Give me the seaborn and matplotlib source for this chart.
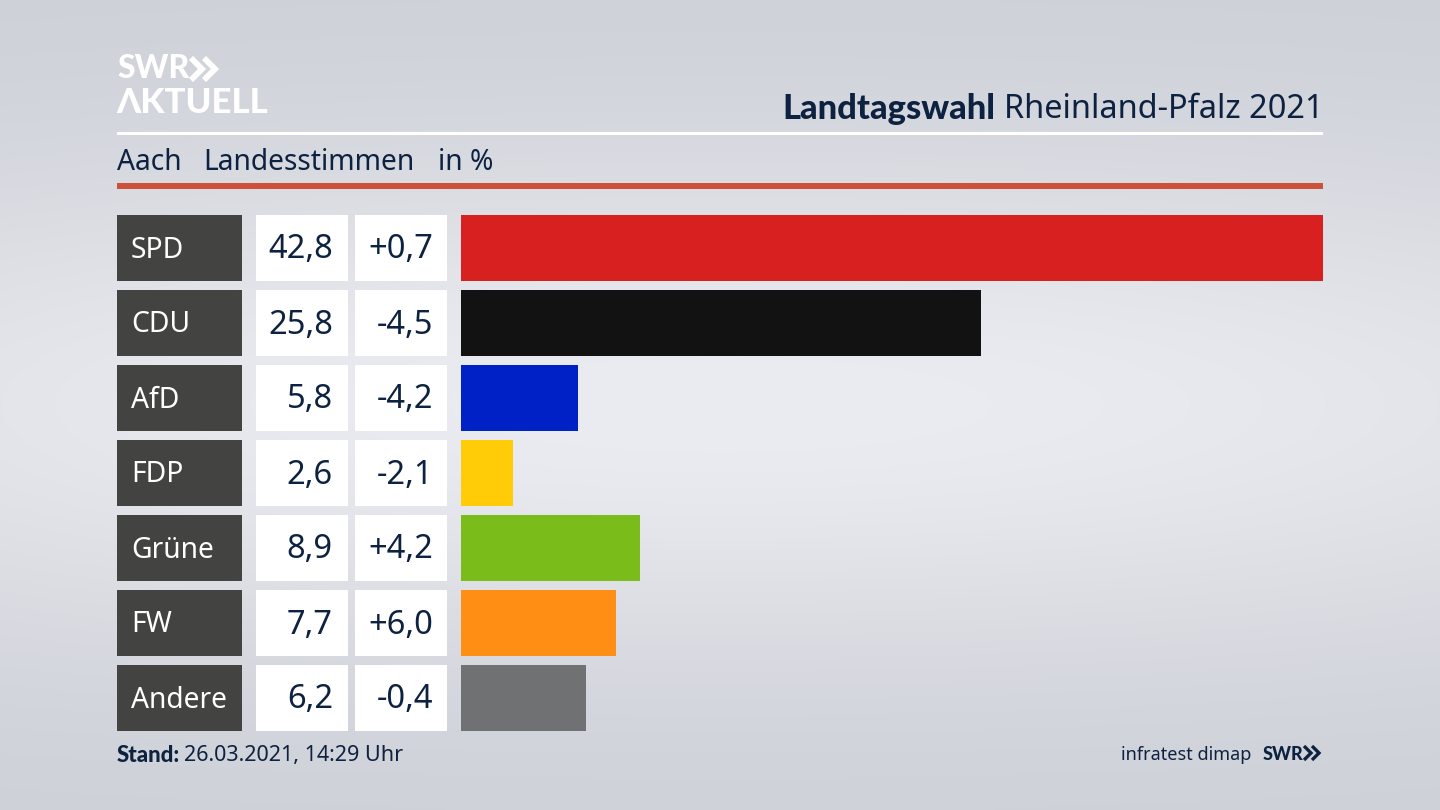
# plot.py
# Landtagswahl Rheinland-Pfalz 2021, Aach, Landesstimmen

import numpy as np
import pandas as pd
import matplotlib
matplotlib.use('Agg')
import matplotlib.pyplot as plt
from matplotlib.patches import Rectangle
import seaborn as sns

parties = ['SPD', 'CDU', 'AfD', 'FDP', 'Grüne', 'FW', 'Andere']
shares = [42.8, 25.8, 5.8, 2.6, 8.9, 7.7, 6.2]
share_labels = ['42,8', '25,8', '5,8', '2,6', '8,9', '7,7', '6,2']
diff_labels = ['+0,7', '-4,5', '-4,2', '-2,1', '+4,2', '+6,0', '-0,4']
party_colors = ['#d7201f', '#121212', '#0021c6', '#ffcc07', '#7abc19', '#ff8e14', '#707173']

NAVY = '#0d2240'
W, H = 1440, 810
ROW_PITCH = 75
ROW_TOP = 215
ROW_H = 66
BOLD = ['Lato', 'DejaVu Sans']

sns.set_theme(style='white')
plt.rcParams['font.family'] = ['Noto Sans', 'DejaVu Sans']

fig = plt.figure(figsize=(W / 100, H / 100), dpi=100)

# ── Background + decoration, in pixel coords ───────────
bg = fig.add_axes([0, 0, 1, 1])
bg.set_xlim(0, W)
bg.set_ylim(H, 0)
bg.axis('off')

xx, yy = np.meshgrid(np.linspace(-1, 1, 320), np.linspace(-1, 1, 180))
glow = np.exp(-(yy / 0.62) ** 2) * (1 - 0.25 * xx ** 2)
top_c = np.array([0xcd, 0xd0, 0xd7]) / 255
mid_c = np.array([0xeb, 0xec, 0xf1]) / 255
grad = top_c[None, None, :] + (mid_c - top_c)[None, None, :] * glow[:, :, None]
bg.imshow(grad, extent=[0, W, H, 0], aspect='auto', interpolation='bilinear', zorder=0)

# Logo
bg.text(117, 69, 'SWR', color='white', fontsize=23, family=BOLD, fontweight='black', va='center', ha='left')
bg.text(116, 103, 'ΛKTUELL', color='white', fontsize=25, family=BOLD, fontweight='black', va='center', ha='left')
for x0 in (191, 204):
    bg.plot([x0, x0 + 11, x0], [58, 69, 80], color='white', lw=4.2,
            solid_joinstyle='miter', solid_capstyle='butt')

# Header
t = bg.text(1323, 110, 'Rheinland-Pfalz 2021', color=NAVY, fontsize=23.4, va='center', ha='right')
fig.canvas.draw()
ext = t.get_window_extent()
bg.text(ext.x0 - 8, 109, 'Landtagswahl', color=NAVY, fontsize=24.8, family=BOLD, fontweight='black', va='center', ha='right')
bg.add_patch(Rectangle((117, 132), 1206, 3, color='white', lw=0))
bg.text(117, 162, 'Aach', color=NAVY, fontsize=20.3, va='center', ha='left')
bg.text(203, 162, 'Landesstimmen', color=NAVY, fontsize=20.3, va='center', ha='left')
bg.text(438, 162, 'in %', color=NAVY, fontsize=20.3, va='center', ha='left')
bg.add_patch(Rectangle((117, 183), 1206, 6, color='#cd5038', lw=0))

# Table cells next to the bars
for i, party in enumerate(parties):
    top = ROW_TOP + i * ROW_PITCH
    mid = top + ROW_H / 2 + 2
    bg.add_patch(Rectangle((117, top), 124.5, ROW_H, color='#434341', lw=0))
    bg.add_patch(Rectangle((256, top), 92, ROW_H, color='white', lw=0))
    bg.add_patch(Rectangle((355, top), 92, ROW_H, color='white', lw=0))
    bg.text(131, mid, party, color='white', fontsize=20.3, va='center', ha='left')
    bg.text(333, mid, share_labels[i], color=NAVY, fontsize=23.5, va='center', ha='right')
    bg.text(433, mid, diff_labels[i], color=NAVY, fontsize=23.5, va='center', ha='right')

# Footer
s = bg.text(117, 755, 'Stand:', color=NAVY, fontsize=16, family=BOLD, fontweight='black', va='center', ha='left')
fig.canvas.draw()
ext = s.get_window_extent()
bg.text(ext.x1 + 4, 756, '26.03.2021, 14:29 Uhr', color=NAVY, fontsize=15.5, va='center', ha='left')
bg.text(1251, 755, 'infratest dimap', color=NAVY, fontsize=13, va='center', ha='right')
bg.text(1263, 754, 'SWR', color=NAVY, fontsize=13, family=BOLD, fontweight='black', va='center', ha='left')
for x0 in (1304, 1312):
    bg.plot([x0, x0 + 7, x0], [746, 753, 760], color=NAVY, lw=2.4,
            solid_joinstyle='miter', solid_capstyle='butt')

# ── Bars ───────────────────────────────────────────────
df = pd.DataFrame({'party': parties, 'share': shares})

ax_top = ROW_TOP + ROW_H / 2 - ROW_PITCH / 2
ax_h = ROW_PITCH * len(parties)
ax = fig.add_axes([461 / W, 1 - (ax_top + ax_h) / H, (1323 - 461) / W, ax_h / H])
ax.patch.set_alpha(0)
sns.barplot(data=df, x='share', y='party', hue='party', order=parties,
            palette=party_colors, legend=False, dodge=False,
            width=ROW_H / ROW_PITCH, saturation=1, linewidth=0, ax=ax)
ax.set_xlim(0, 42.8)
ax.set_xlabel('')
ax.set_ylabel('')
ax.set_xticks([])
ax.set_yticks([])
sns.despine(ax=ax, left=True, bottom=True)

plt.savefig('out.png', dpi=100)
plt.close()
